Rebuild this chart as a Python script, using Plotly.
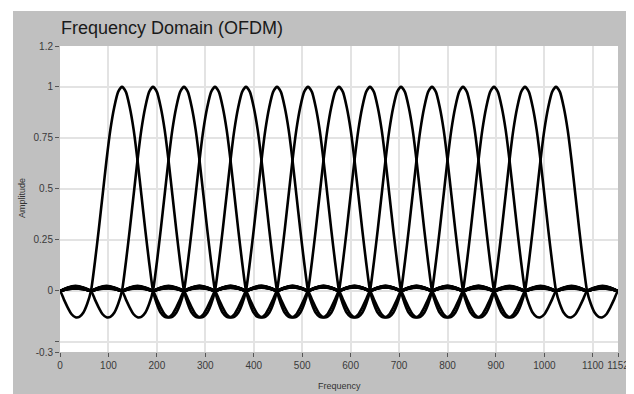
import plotly.graph_objects as go

# ---- data ----
SUBCARRIER_CENTERS = [128, 192, 256, 320, 384, 448, 512, 576, 640, 704, 768, 832, 896, 960, 1024]
SUBCARRIER_SPACING = 64

# pulse shape (offset in units of subcarrier spacing -> amplitude), main lobe + first side lobes
PULSE_OFFSETS = [0.0, 0.125, 0.25, 0.375, 0.5, 0.625, 0.75, 0.875, 1.0,
                 1.125, 1.25, 1.375, 1.5, 1.625, 1.75, 1.875, 2.0]
PULSE_AMPLITUDES = [1.0, 0.975, 0.90, 0.79, 0.64, 0.47, 0.30, 0.14, 0.0,
                    -0.065, -0.108, -0.128, -0.13, -0.115, -0.082, -0.042, 0.0]
# small positive humps on the tails, one per spacing interval beyond the first side lobe
TAIL_HUMPS = [0.024, 0.022, 0.020, 0.019, 0.018, 0.017, 0.016, 0.015,
              0.014, 0.013, 0.013, 0.012, 0.012, 0.011, 0.011, 0.011]

X_TICKS = [0, 100, 200, 300, 400, 500, 600, 700, 800, 900, 1000, 1100, 1152]
Y_TICKS = [-0.3, -0.25, 0, 0.25, 0.5, 0.75, 1, 1.2]
Y_TICK_TEXT = ["-0.3", "", "0", "0.25", "0.5", "0.75", "1", "1.2"]

# ---- build symmetric profile ----
half_u = list(PULSE_OFFSETS)
half_a = list(PULSE_AMPLITUDES)
start = PULSE_OFFSETS[-1]
for i, h in enumerate(TAIL_HUMPS):
    base = start + i
    half_u += [base + 0.25, base + 0.5, base + 0.75, base + 1.0]
    half_a += [h * 0.7, h, h * 0.7, 0.0]

prof_u = [-u for u in reversed(half_u[1:])] + half_u
prof_a = list(reversed(half_a[1:])) + half_a

FONT = "Liberation Sans, Arial, sans-serif"

fig = go.Figure()
for c in SUBCARRIER_CENTERS:
    fig.add_trace(go.Scatter(
        x=[c + SUBCARRIER_SPACING * u for u in prof_u],
        y=prof_a,
        mode="lines",
        line=dict(color="#000000", width=2.6, shape="spline", smoothing=0.6),
        hoverinfo="skip",
        showlegend=False,
    ))

# the page places the figure 8 px in from the top-left corner
W, H = 626, 386
L, R, T, B = 52, 16, 38, 42
pw, ph = W - L - R, H - T - B

def px(xp):
    return (xp - L) / pw

def py(yp):
    return (H - B - yp) / ph

GRAY = "#c0c0c0"
fig.update_layout(
    width=W, height=H,
    margin=dict(l=L, r=R, t=T, b=B, pad=0, autoexpand=False),
    paper_bgcolor=GRAY,
    plot_bgcolor="#ffffff",
    showlegend=False,
    font=dict(family=FONT),
    xaxis=dict(
        range=[0, 1152], tickvals=X_TICKS, ticktext=[str(v) for v in X_TICKS],
        tickangle=0, automargin=False,
        showgrid=True, gridcolor="#e3e3e3", gridwidth=2,
        zeroline=False, showline=False,
        ticks="outside", ticklen=4, tickwidth=1, tickcolor="#555555",
        tickfont=dict(family=FONT, size=10, color="#3a3a3a"),
    ),
    yaxis=dict(
        range=[-0.3, 1.2], tickvals=Y_TICKS, ticktext=Y_TICK_TEXT,
        automargin=False,
        showgrid=True, gridcolor="#e3e3e3", gridwidth=2,
        zeroline=False, showline=False,
        ticks="outside", ticklen=4, tickwidth=1, tickcolor="#555555",
        tickfont=dict(family=FONT, size=10, color="#3a3a3a"),
    ),
    shapes=[
        dict(type="rect", xref="paper", yref="paper", x0=px(-5), x1=px(5), y0=py(H + 5), y1=py(-5),
             fillcolor="#ffffff", line=dict(width=0), layer="below"),
        dict(type="rect", xref="paper", yref="paper", x0=px(-5), x1=px(W + 5), y0=py(3), y1=py(-5),
             fillcolor="#ffffff", line=dict(width=0), layer="below"),
    ],
    annotations=[
        dict(text="Frequency Domain (OFDM)", xref="paper", yref="paper",
             x=px(51), y=py(20), xanchor="left", yanchor="middle", showarrow=False,
             font=dict(family=FONT, size=18, color="#1a1a1a")),
        dict(text="Amplitude", xref="paper", yref="paper",
             x=px(14), y=py(190), xanchor="center", yanchor="middle", textangle=-90,
             showarrow=False, font=dict(family=FONT, size=9, color="#333333")),
        dict(text="Frequency", xref="paper", yref="paper",
             x=px(331), y=py(378), xanchor="center", yanchor="middle",
             showarrow=False, font=dict(family=FONT, size=9, color="#333333")),
    ],
)

fig.write_html("out.html")
